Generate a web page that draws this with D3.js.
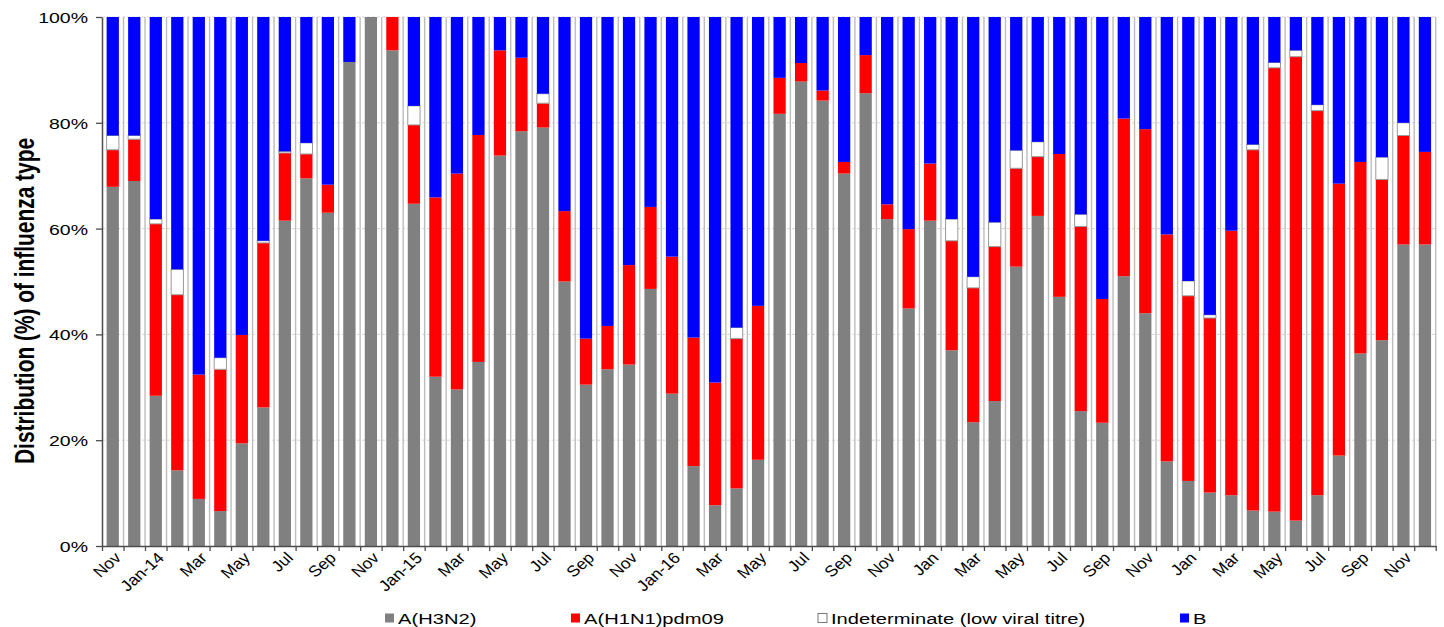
<!DOCTYPE html>
<html><head><meta charset="utf-8">
<script src="https://cdn.jsdelivr.net/npm/d3@7"></script>
<style>
body{margin:0;background:#fff}
svg{display:block}
text{font-family:"Liberation Sans",Arial,sans-serif;fill:#000}
</style>
</head><body>
<svg id="c" width="1444" height="627"></svg>
<script>
// ---------- DATA ----------
const months = [
  "Nov-13","Dec-13",
  "Jan-14","Feb-14","Mar-14","Apr-14","May-14","Jun-14","Jul-14","Aug-14","Sep-14","Oct-14","Nov-14","Dec-14",
  "Jan-15","Feb-15","Mar-15","Apr-15","May-15","Jun-15","Jul-15","Aug-15","Sep-15","Oct-15","Nov-15","Dec-15",
  "Jan-16","Feb-16","Mar-16","Apr-16","May-16","Jun-16","Jul-16","Aug-16","Sep-16","Oct-16","Nov-16","Dec-16",
  "Jan-17","Feb-17","Mar-17","Apr-17","May-17","Jun-17","Jul-17","Aug-17","Sep-17","Oct-17","Nov-17","Dec-17",
  "Jan-18","Feb-18","Mar-18","Apr-18","May-18","Jun-18","Jul-18","Aug-18","Sep-18","Oct-18","Nov-18","Dec-18"
];
// labels shown under every other month
const tickLabels = ["Nov","Jan-14","Mar","May","Jul","Sep","Nov","Jan-15","Mar","May","Jul","Sep",
  "Nov","Jan-16","Mar","May","Jul","Sep","Nov","Jan","Mar","May","Jul","Sep","Nov","Jan","Mar","May","Jul","Sep","Nov"];

const h3n2 = [67.9,69.0,28.4,14.3,8.9,6.6,19.4,26.2,61.5,69.5,63.0,91.5,100,
  93.7,64.7,32.0,29.6,34.8,73.8,78.4,79.1,50.0,30.5,33.4,34.3,48.6,28.8,15.1,7.7,10.9,
  16.3,81.7,87.8,84.2,70.4,85.6,61.8,44.9,61.5,37.0,23.4,27.4,52.8,62.4,47.1,25.5,
  23.3,51.0,44.0,16.0,12.3,10.1,9.6,6.7,6.5,4.8,9.6,17.1,36.4,38.9,57.0,57.0];
const h1n1 = [7.0,7.9,32.5,33.2,23.5,26.8,20.5,31.1,12.8,4.6,5.3,0,0,
  6.3,14.9,33.9,40.8,42.9,19.9,13.9,4.6,13.3,8.7,8.2,18.8,15.5,25.9,24.3,23.2,28.3,
  29.1,6.8,3.5,1.9,2.2,7.2,2.8,15.0,10.8,20.7,25.4,29.2,18.6,11.2,27.0,34.9,
  23.4,29.8,34.8,42.9,35.0,33.0,50.0,68.2,83.9,87.7,72.7,51.4,36.2,30.4,20.6,17.5];
const indeterminate = [2.7,0.7,0.9,4.8,0,2.2,0,0.4,0.3,2.1,0,0,0,
  0,3.6,0,0,0,0,0,1.8,0,0,0,0,0,0,0,0,2.1,
  0,0,0,0,0,0,0,0,0,4.1,2.1,4.6,3.4,2.8,0,2.3,
  0,0,0,0,2.8,0.6,0,1.0,1.0,1.2,1.1,0,0,4.2,2.4,0];
const fluB = [22.4,22.4,38.2,47.7,67.6,64.4,60.1,42.3,25.4,23.8,31.7,8.5,0,
  0,16.8,34.1,29.6,22.3,6.3,7.7,14.5,36.7,60.8,58.4,46.9,35.9,45.3,60.6,69.1,58.7,
  54.6,11.5,8.7,13.9,27.4,7.2,35.4,40.1,27.7,38.2,49.1,38.8,25.2,23.6,25.9,37.3,
  53.3,19.2,21.2,41.1,49.9,56.3,40.4,24.1,8.6,6.3,16.6,31.5,27.4,26.5,20.0,25.5];

const seriesNames = ["A(H3N2)","A(H1N1)pdm09","Indeterminate (low viral titre)","B"];
const seriesColors = ["#808080","#ff0000","#ffffff","#0000ff"];
const yTicks = [0,20,40,60,80,100];

// ---------- CHART ----------
const SX = 1.3; // horizontal stretch of text seen in the reference
const svg = d3.select("#c");
const L = 102, R = 1435.7, T = 17, B = 546;

const rows = months.map((m,i)=>({month:m,
  [seriesNames[0]]:h3n2[i],[seriesNames[1]]:h1n1[i],[seriesNames[2]]:indeterminate[i],[seriesNames[3]]:fluB[i]}));
const stacked = d3.stack().keys(seriesNames)(rows);

const x = d3.scaleBand().domain(months).range([L,R]).paddingInner(0.43).paddingOuter(0.215);
const xb = d3.scaleLinear().domain([0,months.length]).range([L,R]);
const y = d3.scaleLinear().domain([0,100]).range([B,T]);
const color = d3.scaleOrdinal().domain(seriesNames).range(seriesColors);

// gridlines
svg.append("g").selectAll("line").data(yTicks.filter(d=>d>0)).join("line")
  .attr("x1",L).attr("x2",R).attr("y1",d=>y(d)).attr("y2",d=>y(d))
  .attr("stroke","#d6d6d6").attr("stroke-width",1).attr("stroke-dasharray","3,2");

// light separators at category boundaries
svg.append("g").selectAll("line").data(d3.range(1,months.length+1)).join("line")
  .attr("x1",d=>xb(d)).attr("x2",d=>xb(d)).attr("y1",T).attr("y2",B)
  .attr("stroke","#bdbdbd").attr("stroke-width",1.4);

// bars
svg.append("g").selectAll("g").data(stacked).join("g")
  .attr("fill",d=>color(d.key))
  .selectAll("rect").data(d=>d.filter(s=>s[1]-s[0]>0).map(s=>({s,key:d.key}))).join("rect")
  .attr("x",d=>x(d.s.data.month))
  .attr("width",x.bandwidth())
  .attr("y",d=>y(d.s[1]))
  .attr("height",d=>y(d.s[0])-y(d.s[1]))
  .attr("stroke",d=>d.key===seriesNames[2]?"#9a9a9a":"none")
  .attr("stroke-width",1);

// y axis
const yAxis = svg.append("g").attr("transform",`translate(${L},0)`)
  .call(d3.axisLeft(y).tickValues(yTicks).tickSize(6).tickSizeOuter(0).tickFormat(d=>d+"%"));
yAxis.select(".domain").attr("stroke","#4d4d4d").attr("stroke-width",1.5);
yAxis.selectAll(".tick line").attr("stroke","#4d4d4d").attr("stroke-width",1.3);
yAxis.selectAll(".tick text").attr("x",null).attr("dy","0.36em")
  .attr("transform",`translate(-14,0) scale(${SX},1)`)
  .style("font-size","15px").style("font-family","'Liberation Sans',Arial,sans-serif").attr("fill","#000");

// x axis
const xAxis = svg.append("g").attr("transform",`translate(0,${B})`)
  .call(d3.axisBottom(xb).tickValues(d3.range(0,months.length+1)).tickSize(5).tickSizeOuter(0).tickFormat(""));
xAxis.select(".domain").attr("stroke","#4d4d4d").attr("stroke-width",1.5);
xAxis.selectAll(".tick line").attr("stroke","#4d4d4d").attr("stroke-width",1.3);

// x labels (every second month)
svg.append("g").selectAll("text").data(tickLabels).join("text")
  .attr("transform",(d,i)=>`translate(${x(months[i*2])+x.bandwidth()/2+5},${B+9}) scale(1.12,1) rotate(-45)`)
  .attr("text-anchor","end").attr("dy","0.35em")
  .style("font-size","15.5px")
  .text(d=>d);

// y title
svg.append("text")
  .attr("transform",`translate(34,301) rotate(-90)`)
  .attr("text-anchor","middle")
  .style("font-family","'Liberation Sans Narrow','Liberation Sans',Arial,sans-serif")
  .style("font-weight","bold").style("font-size","28px")
  .attr("textLength",326).attr("lengthAdjust","spacingAndGlyphs")
  .text("Distribution (%) of influenza type");

// legend
const legendX = [385,571,818,1180];
const lg = svg.append("g").selectAll("g").data(seriesNames).join("g")
  .attr("transform",(d,i)=>`translate(${legendX[i]},618)`);
lg.append("rect").attr("x",0).attr("y",-4.5).attr("width",9).attr("height",9)
  .attr("fill",d=>color(d)).attr("stroke",(d,i)=>i===2?"#777":"none").attr("stroke-width",1);
lg.append("text").attr("transform",`translate(13,0) scale(${SX},1)`).attr("dy","0.36em")
  .style("font-size","15.5px").text(d=>d);
</script>
</body></html>
